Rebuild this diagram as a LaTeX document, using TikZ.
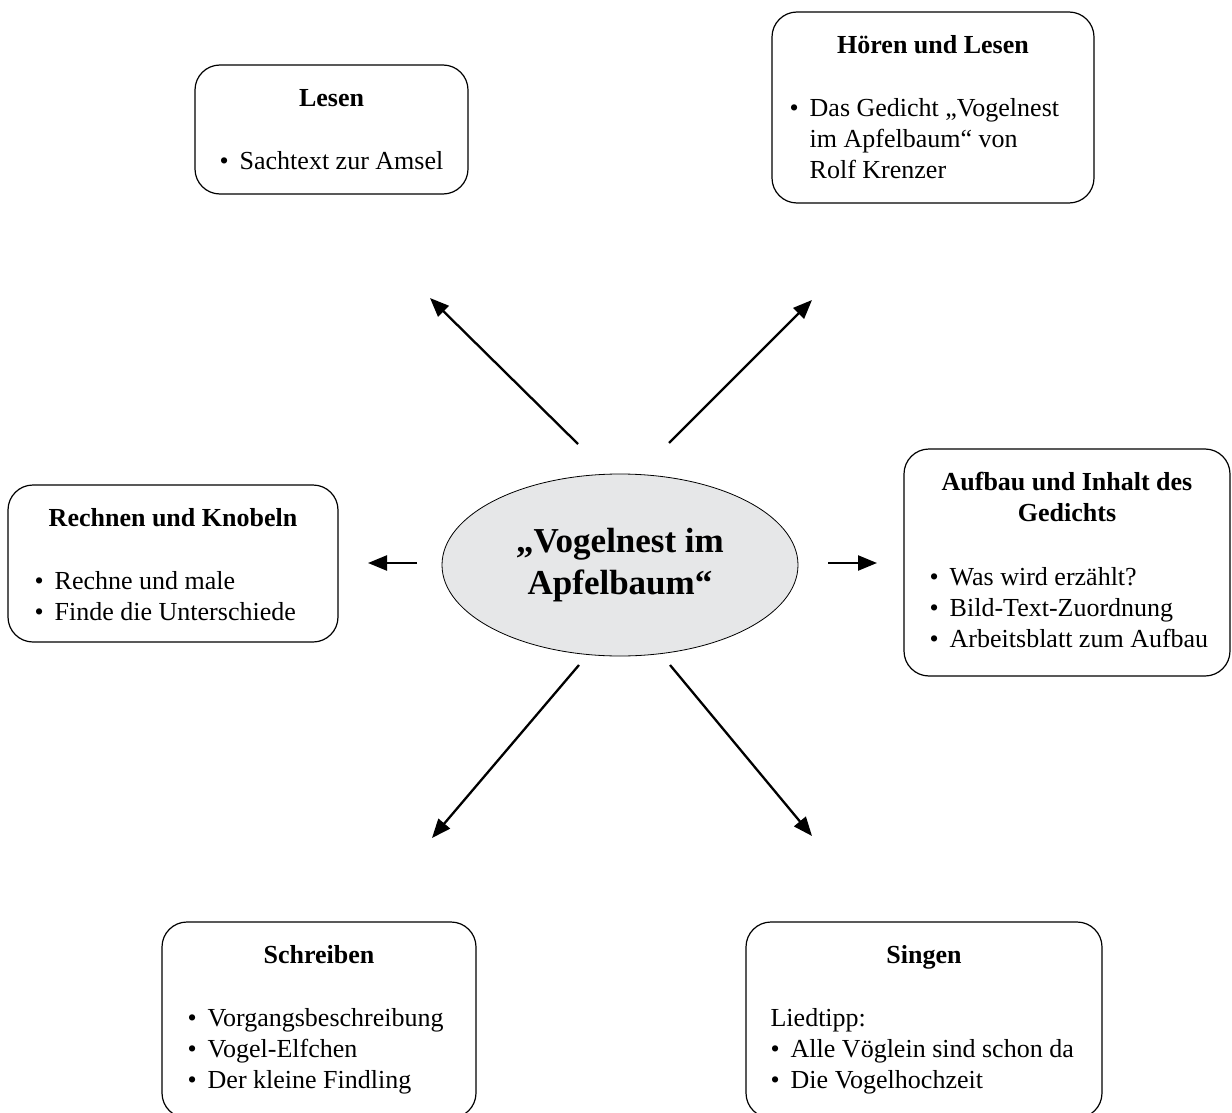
\documentclass[tikz,border=0pt]{standalone}
\usepackage{fontspec}
\setmainfont{Liberation Serif}
\usetikzlibrary{shapes.geometric,arrows.meta,calc}
\definecolor{nestgrau}{HTML}{E6E7E8}
\tikzset{
  kasten/.style={draw, rounded corners=25pt, line width=1.2pt, inner sep=0pt},
  titel/.style={font=\fontsize{26}{31}\selectfont\bfseries, inner sep=0pt, anchor=base},
  punkte/.style={font=\fontsize{26}{31}\selectfont, inner sep=0pt, anchor=base west},
  pfeil/.style={line width=2.3pt, -{Triangle[length=19pt,width=15pt]}}
}
\newcommand{\liste}[1]{\parbox[t]{320pt}{#1}}
\newcommand{\pkt}{•\hspace{11pt}}

\begin{document}
\begin{tikzpicture}[x=1pt,y=-1pt]
    \useasboundingbox (0,0) rectangle (1232,1113);

    \node[ellipse, draw, fill=nestgrau, line width=0.8pt, minimum width=356pt, minimum height=182pt,
          align=center, font=\fontsize{35}{42}\selectfont\bfseries] (nest) at (620,565) {„Vogelnest im\\Apfelbaum“};

    \node[kasten, minimum width=273pt, minimum height=129pt] (lesen) at (331.5,129.5) {};
    \node[titel] (lesen-t) at ($(lesen.north)+(0,42)$) {Lesen};
    \node[punkte] (lesen-p) at ($(lesen.north west)+(25,105)$) {\liste{\pkt Sachtext zur Amsel}};

    \node[kasten, minimum width=322pt, minimum height=191pt] (hoeren) at (933,107.5) {};
    \node[titel] (hoeren-t) at ($(hoeren.north)+(0,42)$) {Hören und Lesen};
    \node[punkte] (hoeren-p) at ($(hoeren.north west)+(18,105)$) {\liste{\pkt Das Gedicht „Vogelnest\\\phantom{\pkt}im Apfelbaum“ von\\\phantom{\pkt}Rolf Krenzer}};

    \node[kasten, minimum width=330pt, minimum height=157pt] (rechnen) at (173,563.5) {};
    \node[titel] (rechnen-t) at ($(rechnen.north)+(0,42)$) {Rechnen und Knobeln};
    \node[punkte] (rechnen-p) at ($(rechnen.north west)+(27,105)$) {\liste{\pkt Rechne und male\\\pkt Finde die Unterschiede}};

    \node[kasten, minimum width=326pt, minimum height=227pt] (aufbau) at (1067,562.5) {};
    \node[titel] (aufbau-t) at ($(aufbau.north)+(0,42)$) {\begin{tabular}[t]{@{}c@{}}Aufbau und Inhalt des\\Gedichts\end{tabular}};
    \node[punkte] (aufbau-p) at ($(aufbau.north west)+(26,137)$) {\liste{\pkt Was wird erzählt?\\\pkt Bild-Text-Zuordnung\\\pkt Arbeitsblatt zum Aufbau}};

    \node[kasten, minimum width=314pt, minimum height=196pt] (schreiben) at (319,1020) {};
    \node[titel] (schreiben-t) at ($(schreiben.north)+(0,42)$) {Schreiben};
    \node[punkte] (schreiben-p) at ($(schreiben.north west)+(26,105)$) {\liste{\pkt Vorgangsbeschreibung\\\pkt Vogel-Elfchen\\\pkt Der kleine Findling}};

    \node[kasten, minimum width=356pt, minimum height=196pt] (singen) at (924,1020) {};
    \node[titel] (singen-t) at ($(singen.north)+(0,42)$) {Singen};
    \node[punkte] (singen-p) at ($(singen.north west)+(25,105)$) {\liste{Liedtipp:\\\pkt Alle Vöglein sind schon da\\\pkt Die Vogelhochzeit}};

    \coordinate (ol-a) at (578,444);  \coordinate (ol-b) at (430,298);
    \coordinate (or-a) at (669,443);  \coordinate (or-b) at (812,300);
    \coordinate (l-a) at (417,563);   \coordinate (l-b) at (368,563);
    \coordinate (r-a) at (828,563);   \coordinate (r-b) at (877,563);
    \coordinate (ul-a) at (579,665);  \coordinate (ul-b) at (432,838);
    \coordinate (ur-a) at (670,665);  \coordinate (ur-b) at (812,836);

    \draw[pfeil] (ol-a) -- (ol-b);
    \draw[pfeil] (or-a) -- (or-b);
    \draw[pfeil] (l-a) -- (l-b);
    \draw[pfeil] (r-a) -- (r-b);
    \draw[pfeil] (ul-a) -- (ul-b);
    \draw[pfeil] (ur-a) -- (ur-b);
\end{tikzpicture}
\end{document}
